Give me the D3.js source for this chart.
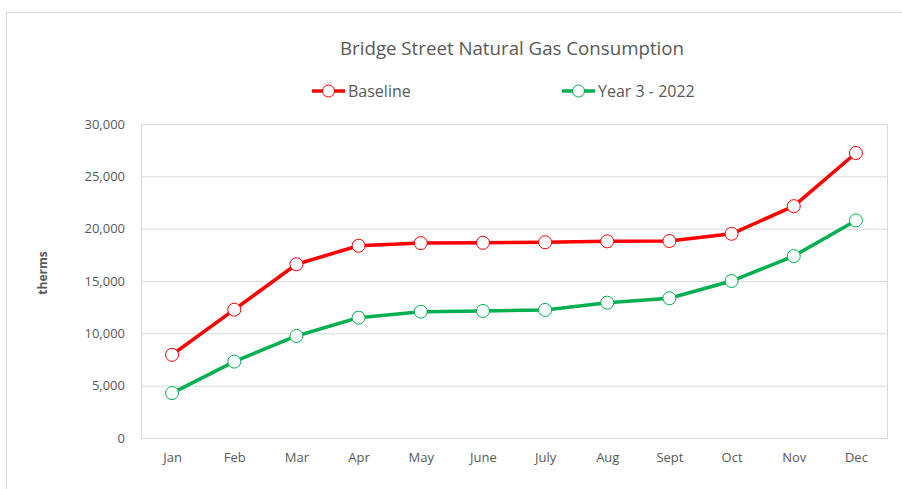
<!DOCTYPE html>
<html>
<head>
<meta charset="utf-8">
<script src="https://cdn.jsdelivr.net/npm/d3@7"></script>
<style>
  body { margin: 0; background: #fff; }
  text { font-family: "Open Sans", "Noto Sans", sans-serif; fill: #595959; }
</style>
</head>
<body>
<div class="vis-linechart"></div>
<script>
const months = ["Jan", "Feb", "Mar", "Apr", "May", "June", "July", "Aug", "Sept", "Oct", "Nov", "Dec"];
const baseline = [7950, 12260, 16600, 18370, 18620, 18650, 18700, 18790, 18820, 19510, 22150, 27230];
const year3 = [4290, 7300, 9750, 11500, 12070, 12140, 12240, 12930, 13350, 15000, 17380, 20790];
const yTicks = [0, 5000, 10000, 15000, 20000, 25000, 30000];
const seriesNames = ["Baseline", "Year 3 - 2022"];
const colors = ["#ff0000", "#00b050"];

const W = 902, H = 489;
let margin = {top: 124, right: 15, bottom: 51, left: 141};
const width = W - margin.left - margin.right;
const height = H - margin.top - margin.bottom;

let svg = d3.select('.vis-linechart')
    .append('svg')
    .attr('width', W)
    .attr('height', H);

// outer chart border
svg.append("rect")
    .attr("x", 6.5).attr("y", 12.5)
    .attr("width", W).attr("height", H)
    .attr("fill", "none")
    .attr("stroke", "#d9d9d9");

// title
svg.append("text")
    .attr("x", 512).attr("y", 55)
    .attr("text-anchor", "middle")
    .style("font-size", "18.7px")
    .text("Bridge Street Natural Gas Consumption");

let g = svg.append("g")
    .attr("transform", "translate(" + margin.left + "," + margin.top + ")");

let xScale = d3.scalePoint()
    .domain(months)
    .range([0, width])
    .padding(0.5);

let yScale = d3.scaleLinear()
    .domain([0, 30000])
    .range([height, 0]);

// grid lines
g.append("g")
    .call(d3.axisLeft(yScale).tickValues(yTicks).tickSize(-width).tickFormat(""))
    .call(s => s.select(".domain").remove())
    .selectAll("line")
    .attr("stroke", "#d9d9d9");

// plot area border
g.append("rect")
    .attr("x", 0.5).attr("y", 0.5)
    .attr("width", width).attr("height", height)
    .attr("fill", "none")
    .attr("stroke", "#d9d9d9");

// y axis labels
g.append("g")
    .call(d3.axisLeft(yScale).tickValues(yTicks).tickSize(0).tickPadding(16).tickFormat(d3.format(",")))
    .call(s => s.select(".domain").remove())
    .selectAll("text")
    .style("font-size", "13px")
    .style("fill", "#595959");

// x axis labels
g.append("g")
    .attr("transform", "translate(0," + height + ")")
    .call(d3.axisBottom(xScale).tickSize(0).tickPadding(15))
    .call(s => s.select(".domain").remove())
    .selectAll("text")
    .style("font-size", "13px")
    .style("fill", "#595959");

// y axis title
svg.append("text")
    .attr("transform", "translate(47,273) rotate(-90)")
    .attr("text-anchor", "middle")
    .style("font-size", "12px")
    .style("font-weight", "bold")
    .text("therms");

let line = d3.line()
    .x((d, i) => xScale(months[i]))
    .y(d => yScale(d));

[baseline, year3].forEach(function(data, k){
    g.append("path")
        .datum(data)
        .attr("fill", "none")
        .attr("stroke", colors[k])
        .attr("stroke-width", 3.5)
        .attr("stroke-linejoin", "round")
        .attr("d", line);

    g.selectAll(".dot" + k)
        .data(data)
        .enter()
        .append("circle")
        .attr("cx", (d, i) => xScale(months[i]))
        .attr("cy", d => yScale(d))
        .attr("r", 6.5)
        .attr("fill", "#fff")
        .attr("stroke", colors[k])
        .attr("stroke-width", 1);
});

// legend
const legendX = [312, 562];
seriesNames.forEach(function(name, k){
    let lg = svg.append("g").attr("transform", "translate(" + legendX[k] + ",91)");
    lg.append("line")
        .attr("x1", 0).attr("x2", 33)
        .attr("stroke", colors[k])
        .attr("stroke-width", 3.5);
    lg.append("circle")
        .attr("cx", 16.5).attr("r", 6)
        .attr("fill", "#fff")
        .attr("stroke", colors[k])
        .attr("stroke-width", 1);
    lg.append("text")
        .attr("x", 36).attr("y", 6)
        .style("font-size", "16px")
        .text(name);
});
</script>
</body>
</html>
